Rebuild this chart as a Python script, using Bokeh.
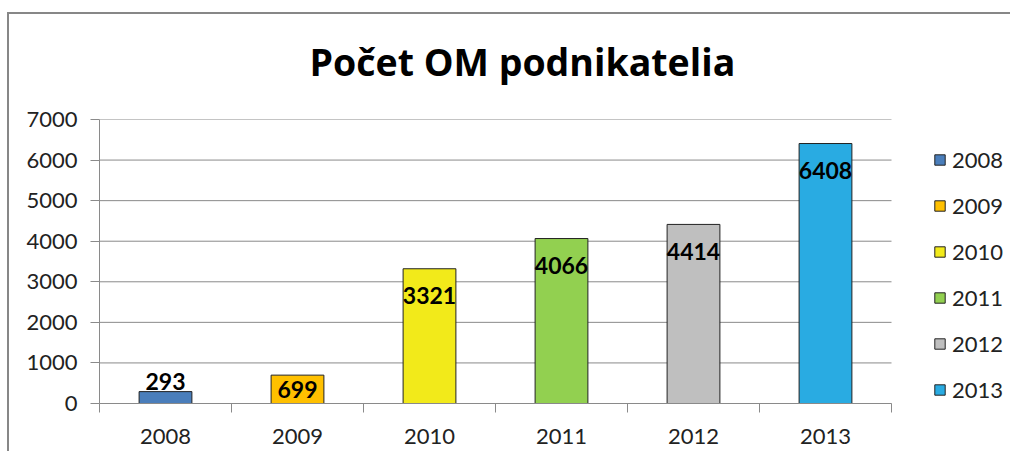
import numpy as np
from bokeh.plotting import figure
from bokeh.models import (ColumnDataSource, FixedTicker, Range1d, Legend, LegendItem)
from bokeh.core.properties import value
from bokeh.embed import file_html
from bokeh.resources import INLINE

# ---- data ----
years = ["2008", "2009", "2010", "2011", "2012", "2013"]
counts = [293, 699, 3321, 4066, 4414, 6408]
colors = ["#4A7EBB", "#FFC000", "#F2EA1A", "#92D050", "#BFBFBF", "#29ABE2"]
y_ticks = [0, 1000, 2000, 3000, 4000, 5000, 6000, 7000]
title_text = "Počet OM podnikatelia"

FONT = "Lato"
GRAY = "#8a8a8a"

n = len(years)
xs = np.arange(n) + 0.5

# ---- layout constants (pixels) ----
W, H = 1010, 451
ML, MT, MB = 99, 119, 48
PLOT_RIGHT = 891           # where the category axis ends
LEG_X = 933                # legend glyph left edge

frame_w = W - ML
x_end = n * frame_w / (PLOT_RIGHT - ML)

src = ColumnDataSource(dict(x=xs, top=counts, color=colors))

p = figure(width=W, height=H, output_backend="svg", toolbar_location=None,
           x_range=Range1d(0, x_end), y_range=Range1d(y_ticks[0], y_ticks[-1]),
           min_border_left=ML, min_border_right=0, min_border_top=MT,
           min_border_bottom=MB, title=title_text)
p.styles = {
    "background": ("linear-gradient(#878787,#878787) 7px 12px / 2px 100% no-repeat, "
                   "linear-gradient(#878787,#878787) 7px 12px / 100% 2px no-repeat"),
}

p.title.text_font = "Open Sans"
p.title.text_font_size = "37.5px"
p.title.text_font_style = "bold"
p.title.text_color = "#000000"
p.title.align = "left"
p.title.offset = 210
p.title.standoff = 66

p.outline_line_color = None
p.background_fill_color = "white"
p.border_fill_alpha = 0

# grid lines only across the category area
p.xgrid.grid_line_color = None
p.ygrid.grid_line_color = None
p.segment(x0=0, x1=n, y0=y_ticks, y1=y_ticks, line_color=GRAY, line_width=1)

# y axis
p.yaxis.ticker = FixedTicker(ticks=y_ticks)
p.yaxis.axis_line_color = GRAY
p.yaxis.major_tick_line_color = GRAY
p.yaxis.major_tick_out = 9
p.yaxis.major_tick_in = 0
p.yaxis.minor_tick_line_color = None
p.yaxis.major_label_text_font = FONT
p.yaxis.major_label_text_font_size = "22px"
p.yaxis.major_label_text_color = "#222222"
p.yaxis.major_label_standoff = 13

# x axis: labels at centers, minor ticks at category boundaries
p.xaxis.ticker = FixedTicker(ticks=list(xs), minor_ticks=list(range(n + 1)))
p.xaxis.major_label_overrides = {float(x): y for x, y in zip(xs, years)}
p.xaxis.bounds = (0, n)
p.xaxis.axis_line_color = GRAY
p.xaxis.major_tick_line_color = None
p.xaxis.minor_tick_line_color = GRAY
p.xaxis.minor_tick_out = 9
p.xaxis.minor_tick_in = 0
p.xaxis.major_label_text_font = FONT
p.xaxis.major_label_text_font_size = "22px"
p.xaxis.major_label_text_color = "#222222"
p.xaxis.major_label_standoff = 16

bars = p.vbar(x="x", top="top", bottom=0, width=0.4, fill_color="color",
              line_color="#222222", line_width=1, source=src)

# value labels: inside end for tall bars, centered for short, above for tiny
# (bokeh y_offset: positive = downward on screen)
px_per_unit = (H - MT - MB) / (y_ticks[-1] - y_ticks[0])
lab_y, lab_off = [], []
for c in counts:
    hpx = c * px_per_unit
    if hpx < 20:
        lab_y.append(c); lab_off.append(-10)
    elif hpx < 50:
        lab_y.append(c / 2); lab_off.append(0)
    else:
        lab_y.append(c); lab_off.append(27)
lsrc = ColumnDataSource(dict(x=xs, y=lab_y, off=lab_off, label=[str(c) for c in counts]))
p.text(x="x", y="y", text="label", y_offset="off", source=lsrc,
       text_align="center", text_baseline="middle",
       text_font=value(FONT), text_font_size="23px", text_font_style="bold",
       text_color="#000000")

items = [LegendItem(label=y, renderers=[bars], index=i) for i, y in enumerate(years)]
legend = Legend(items=items, location=(LEG_X - ML, 0), orientation="vertical",
                glyph_width=13, glyph_height=13, label_height=20, spacing=19,
                label_standoff=6, padding=0, margin=0,
                label_text_font=FONT, label_text_font_size="22px",
                label_text_color="#222222",
                border_line_color=None, background_fill_alpha=0)
p.add_layout(legend)

open("out.html", "w").write(file_html(p, INLINE))
